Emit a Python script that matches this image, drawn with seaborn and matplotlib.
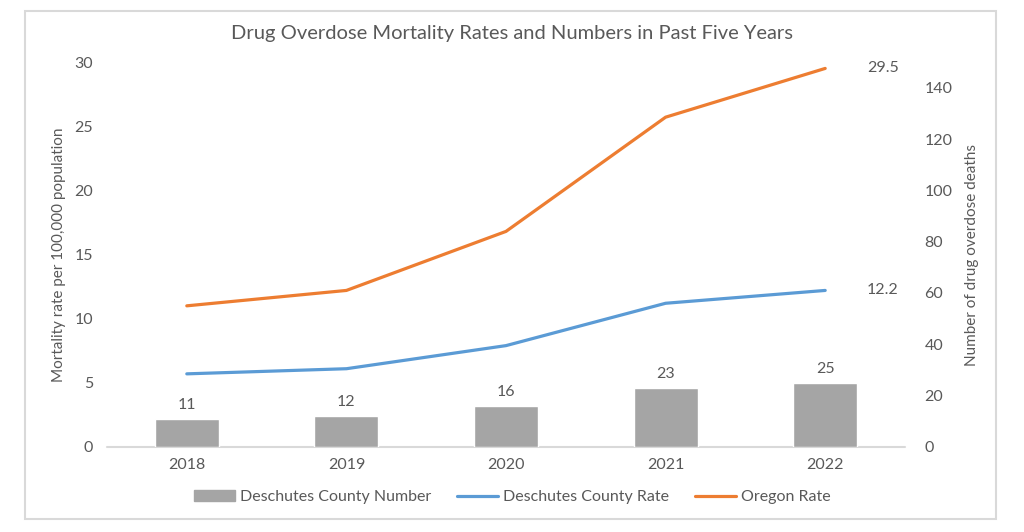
import matplotlib
matplotlib.use("Agg")
import matplotlib.pyplot as plt
import matplotlib.patches as mpatches
from matplotlib.lines import Line2D
import pandas as pd
import seaborn as sns

years = ["2018", "2019", "2020", "2021", "2022"]
county_number = [11, 12, 16, 23, 25]
county_rate = [5.7, 6.1, 7.9, 11.2, 12.2]
oregon_rate = [11.0, 12.2, 16.8, 25.7, 29.5]

df = pd.DataFrame({"year": years, "number": county_number,
                   "county_rate": county_rate, "oregon_rate": oregon_rate})

sns.set_theme(style="white")
plt.rcParams["font.family"] = ["Lato", "DejaVu Sans"]
text_grey = "#595959"
bar_grey = "#a5a5a5"
blue = "#5b9bd5"
orange = "#ed7d31"

fig = plt.figure(figsize=(10.24, 5.32), dpi=100)
ax = fig.add_axes([107 / 1024, 1 - 447 / 532, 798 / 1024, 385 / 532])
ax2 = ax.twinx()

# bars on the right axis (counts)
sns.barplot(data=df, x="year", y="number", ax=ax2, color=bar_grey,
            width=0.4, saturation=1, errorbar=None)
for p, v in zip(ax2.patches, county_number):
    ax2.annotate(str(v), (p.get_x() + p.get_width() / 2, p.get_height()),
                 xytext=(0, 5), textcoords="offset points", ha="center",
                 va="bottom", fontsize=11.5, color=text_grey)

# rate lines on the left axis
sns.pointplot(data=df, x="year", y="county_rate", ax=ax, color=blue,
              markers="", errorbar=None, linewidth=2.3)
sns.pointplot(data=df, x="year", y="oregon_rate", ax=ax, color=orange,
              markers="", errorbar=None, linewidth=2.3)
ax.annotate(f"{oregon_rate[-1]}", (4, oregon_rate[-1]), xytext=(30, 0),
            textcoords="offset points", ha="left", va="center",
            fontsize=11.5, color=text_grey)
ax.annotate(f"{county_rate[-1]}", (4, county_rate[-1]), xytext=(30, 0),
            textcoords="offset points", ha="left", va="center",
            fontsize=11.5, color=text_grey)

ax.set_xlim(-0.5, 4.5)
ax.set_ylim(0, 30)
ax2.set_ylim(0, 150)
ax.set_yticks([0, 5, 10, 15, 20, 25, 30])
ax2.set_yticks([0, 20, 40, 60, 80, 100, 120, 140])

for a in (ax, ax2):
    for s in a.spines.values():
        s.set_visible(False)
    a.tick_params(length=0, labelsize=11.5, colors=text_grey)
    a.set_xlabel("")
    a.grid(False)
ax.tick_params(axis="y", pad=10)
ax2.tick_params(axis="y", pad=14)
ax.tick_params(axis="x", pad=8)
ax.axhline(0, color="#d9d9d9", lw=1.5, clip_on=False)
ax.patch.set_visible(False)

ax.set_ylabel("Mortality rate per 100,000 population", fontsize=11,
              color=text_grey, labelpad=6)
ax2.set_ylabel("Number of drug overdose deaths", fontsize=11,
               color=text_grey, labelpad=9)

fig.text(512 / 1024, 1 - 33 / 532,
         "Drug Overdose Mortality Rates and Numbers in Past Five Years",
         ha="center", va="center", fontsize=14.5, color=text_grey)

handles = [mpatches.Patch(color=bar_grey, label="Deschutes County Number"),
           Line2D([], [], color=blue, lw=2.3, label="Deschutes County Rate"),
           Line2D([], [], color=orange, lw=2.3, label="Oregon Rate")]
leg = fig.legend(handles=handles, loc="center", ncol=3, frameon=False,
                 bbox_to_anchor=(512 / 1024, 1 - 497 / 532), fontsize=11.5,
                 handlelength=2.6, handletextpad=0.3, columnspacing=1.6)
for t in leg.get_texts():
    t.set_color(text_grey)

fig.patches.append(mpatches.Rectangle(
    (25 / 1024, 1 - 519 / 532), 971 / 1024, 508 / 532,
    transform=fig.transFigure, fill=False, edgecolor="#d9d9d9", lw=1.5))

fig.savefig("out.png", dpi=100)
